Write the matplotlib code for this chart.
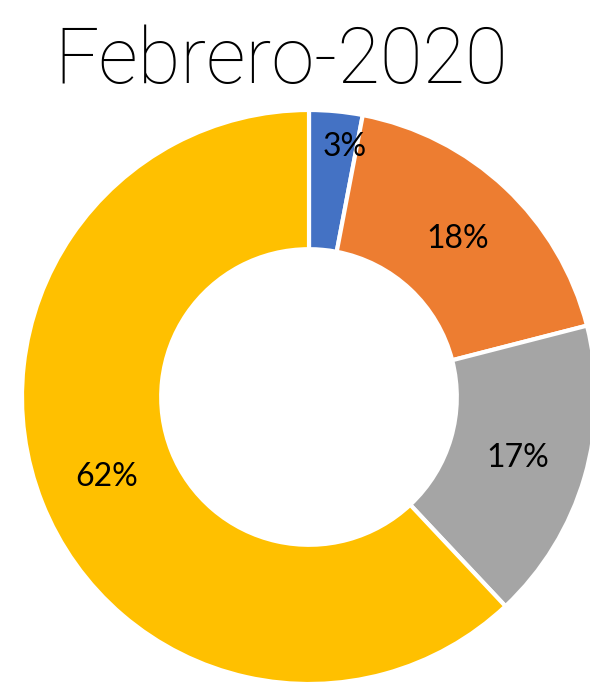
import matplotlib
matplotlib.use("Agg")
import matplotlib.pyplot as plt
import numpy as np

# datos
categorias = ["A", "B", "C", "D"]
porcentajes = [3, 18, 17, 62]
colores = ["#4472C4", "#ED7D31", "#A5A5A5", "#FFC000"]
titulo = "Febrero-2020"

fig = plt.figure(figsize=(5.9, 6.84), dpi=100)
ax = fig.add_axes([22 / 590, 0, 574 / 590, 574 / 684])

wedges, textos = ax.pie(
    porcentajes,
    colors=colores,
    startangle=90,
    counterclock=False,
    radius=1.0,
    wedgeprops=dict(width=0.485, edgecolor="white", linewidth=3),
)

# etiquetas de porcentaje en el centro del anillo
acum = 0
for i, p in enumerate(porcentajes):
    if p < 5:
        # la etiqueta pequeña va un poco hacia fuera y a la derecha
        ang = np.deg2rad(90 - (acum + p * 0.75) * 3.6)
        r = 0.88
    else:
        ang = np.deg2rad(90 - (acum + p / 2) * 3.6)
        r = 0.757
    ax.text(r * np.cos(ang), r * np.sin(ang), f"{p}%", ha="center", va="center",
            fontsize=23, family="Lato", color="black")
    acum += p

ax.set_xlim(-1, 1)
ax.set_ylim(-1, 1)
ax.set_aspect("equal")
ax.axis("off")

fig.text(281 / 590, 1 - 83 / 684, titulo, ha="center", va="baseline",
         fontsize=56, family="Roboto", fontweight="light", color="black")

fig.savefig("out.png", dpi=100)
